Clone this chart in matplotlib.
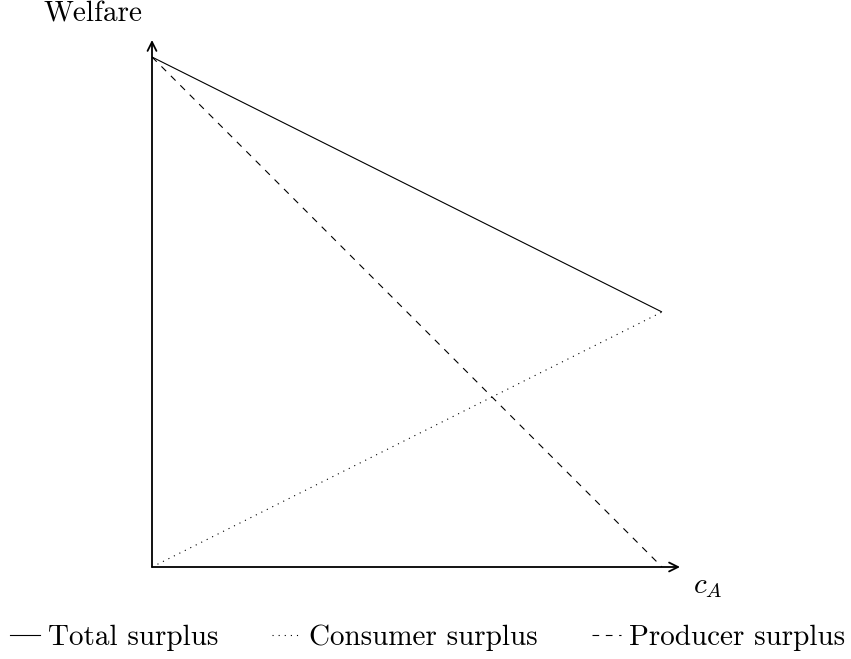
import matplotlib
matplotlib.use("Agg")
import matplotlib.pyplot as plt
from matplotlib.lines import Line2D

plt.rcParams['font.family'] = ['cmr10', 'DejaVu Serif']
plt.rcParams['mathtext.fontset'] = 'cm'
plt.rcParams['axes.unicode_minus'] = False

# cost of firm A, scaled to [0, 1]
c_a = [0.0, 1.0]
total_surplus = [1.0, 0.5]
consumer_surplus = [0.0, 0.5]
producer_surplus = [1.0, 0.0]
labels = ['Total surplus', 'Consumer surplus', 'Producer surplus']

fig = plt.figure(figsize=(8.51, 6.59), dpi=100)
W, H = 851, 659
x0, y0 = 152, 567
x1, y1 = 680, 40
ax = fig.add_axes([x0 / W, (H - y0) / H, (x1 - x0) / W, (y0 - y1) / H])
ax.set_xlim(0, (x1 - x0) / 510.0)
ax.set_ylim(0, (y0 - y1) / 510.0)
for s in ax.spines.values():
    s.set_visible(False)
ax.set_xticks([])
ax.set_yticks([])
ax.patch.set_alpha(0)

# axis arrows
arrow = dict(arrowstyle='->', lw=1.3, color='black', mutation_scale=16,
             shrinkA=0, shrinkB=0)
ax.annotate('', xy=(1, 0), xytext=(0, 0), xycoords='axes fraction', arrowprops=arrow)
ax.annotate('', xy=(0, 1), xytext=(0, 0), xycoords='axes fraction', arrowprops=arrow)

lw = 0.8
dotted = (0, (1, 4.5))
dashed = (0, (6, 6))
ax.plot(c_a, total_surplus, color='black', lw=lw, solid_capstyle='butt')
ax.plot(c_a, consumer_surplus, color='black', lw=lw, ls=dotted)
ax.plot(c_a, producer_surplus, color='black', lw=lw, ls=dashed)

fs = 21
fig.text(93 / W, 1 - 21 / H, 'Welfare', fontsize=fs, ha='center', va='baseline')
fig.text(708 / W, 1 - 587 / H, r'$c_A$', fontsize=fs, ha='center', va='center')

handles = [
    Line2D([], [], color='black', lw=lw),
    Line2D([], [], color='black', lw=lw, ls=dotted),
    Line2D([], [], color='black', lw=lw, ls=dashed),
]
fig.legend(handles, labels, loc='center', bbox_to_anchor=(428 / W, 1 - 638 / H),
           ncol=3, frameon=False, fontsize=fs, handlelength=1.0,
           handletextpad=0.28, columnspacing=1.85, borderpad=0, borderaxespad=0)

fig.savefig('out.png', dpi=100)
